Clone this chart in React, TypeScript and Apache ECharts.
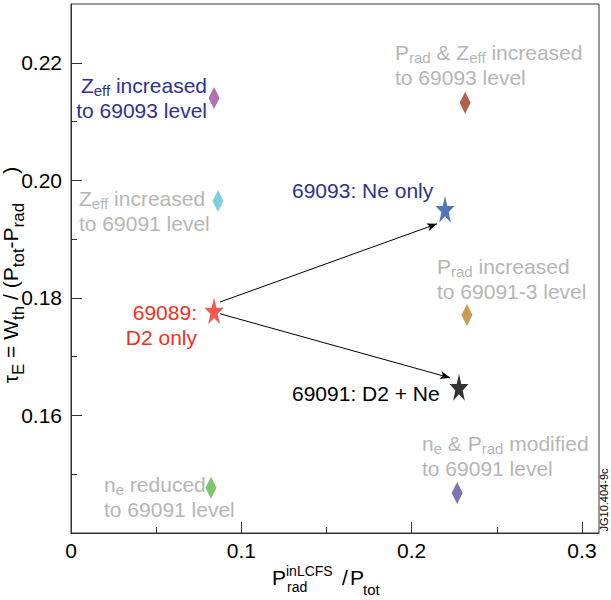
import React, { useEffect, useRef } from 'react';
import * as echarts from 'echarts';

// ---- axis ticks ----
const xMajorTicks = [0, 0.1, 0.2, 0.3];
const xMinorTicks = [0.05, 0.15, 0.25];
const yMajorTicks = [0.16, 0.18, 0.2, 0.22];
const yMinorTicks = [0.15, 0.17, 0.19, 0.21];

// ---- discharges (stars) ----
const starNames = ['69089: D2 only', '69093: Ne only', '69091: D2 + Ne'];
const starX = [0.084, 0.2196, 0.2278];
const starY = [0.1778, 0.1951, 0.1648];

// ---- modelled variations (diamonds) ----
const diamondNames = [
  'Zeff increased to 69093 level',
  'Zeff increased to 69091 level',
  'Prad & Zeff increased to 69093 level',
  'Prad increased to 69091-3 level',
  'ne reduced to 69091 level',
  'ne & Prad modified to 69091 level',
];
const diamondX = [0.084, 0.0863, 0.2314, 0.2325, 0.0822, 0.2267];
const diamondY = [0.214, 0.1965, 0.2132, 0.1771, 0.1477, 0.1468];

// ---- arrows (from 69089 to the two Ne cases) ----
const arrowFromX = [0.0875, 0.0875];
const arrowFromY = [0.1793, 0.1773];
const arrowToX = [0.2149, 0.2226];
const arrowToY = [0.1926, 0.1664];

// ---- styles ----
const starColors = ['#ee3124', '#2356a8', '#000000'];
const diamondColors = ['#9a4f9c', '#5cc4d8', '#9b3a22', '#b8842e', '#5cb646', '#5b51a3'];
const F = '"Liberation Sans", Arial, Helvetica, sans-serif';
const GRAY = '#b6b6b6';
const NAVY = '#2e3192';
const RED = '#ee3124';
const STAR =
  'path://M50,0 L61.8,35.1 L98.9,35.1 L69,56.9 L80.3,91.9 L50,70.2 L19.7,91.9 L31,56.9 L1.1,35.1 L38.2,35.1 Z';

function richFor(color: string) {
  return {
    n: { fontSize: 21, lineHeight: 25, fontFamily: F, fill: color },
    s: { fontSize: 15, lineHeight: 10, verticalAlign: 'bottom', fontFamily: F, fill: color },
  };
}

const annotations = [
  { text: '{n|Z}{s|eff}{n| increased}\n{n|to 69093 level}', color: NAVY, x: 207, y: 73, align: 'right' },
  { text: '{n|Z}{s|eff}{n| increased}\n{n|to 69091 level}', color: GRAY, x: 79, y: 186, align: 'left' },
  { text: '{n|P}{s|rad}{n| & Z}{s|eff}{n| increased}\n{n|to 69093 level}', color: GRAY, x: 395, y: 40, align: 'left' },
  { text: '{n|69093: Ne only}', color: NAVY, x: 292, y: 178, align: 'left' },
  { text: '{n|69089:}\n{n|D2 only}', color: RED, x: 197, y: 300, align: 'right' },
  { text: '{n|P}{s|rad}{n| increased}\n{n|to 69091-3 level}', color: GRAY, x: 437, y: 254, align: 'left' },
  { text: '{n|69091: D2 + Ne}', color: '#000000', x: 292, y: 381, align: 'left' },
  { text: '{n|n}{s|e}{n| & P}{s|rad}{n| modified}\n{n|to 69091 level}', color: GRAY, x: 422, y: 431, align: 'left' },
  { text: '{n|n}{s|e}{n| reduced}\n{n|to 69091 level}', color: GRAY, x: 104, y: 472, align: 'left' },
];

export default function App() {
  const ref = useRef<HTMLDivElement>(null);

  useEffect(() => {
    if (!ref.current) return;
    const chart = echarts.init(ref.current, null, { renderer: 'svg' });

    const axisLineStyle = { color: '#333333', width: 1 };
    const labelStyle = { fontSize: 21, color: '#000000', fontFamily: F };

    const graphics: any[] = annotations.map((a) => ({
      type: 'text',
      x: a.x,
      y: a.y,
      z: 10,
      style: {
        text: a.text,
        rich: richFor(a.color),
        fill: a.color,
        align: a.align,
        verticalAlign: 'top',
        fontFamily: F,
        fontSize: 21,
      },
    }));

    // y-axis title (rotated)
    const yRich = {
      n: { fontSize: 21, lineHeight: 34, fontFamily: F, fill: '#000' },
      s: { fontSize: 17, lineHeight: 10, verticalAlign: 'bottom', fontFamily: F, fill: '#000' },
    };
    graphics.push({
      type: 'text',
      x: 10,
      y: 275,
      rotation: Math.PI / 2,
      style: {
        text: '{n|τ}{s|E}{n| = W}{s|th}{n| / (P}{s|tot}{n|-P}{s|rad}{n|     )}',
        rich: yRich,
        align: 'center',
        verticalAlign: 'middle',
        fill: '#000',
        fontFamily: F,
        fontSize: 21,
      },
    });

    // x-axis title
    const t = (text: string, x: number, y: number, size: number) => ({
      type: 'text',
      x,
      y,
      style: { text, fill: '#000', fontSize: size, fontFamily: F, align: 'left', verticalAlign: 'middle' },
    });
    graphics.push(t('P', 272, 577, 21));
    graphics.push(t('inLCFS', 286, 571, 14));
    graphics.push(t('rad', 287, 587, 14));
    graphics.push(t('/', 342, 577, 21));
    graphics.push(t('P', 350, 577, 21));
    graphics.push(t('tot', 363, 589, 15));

    // figure id
    graphics.push({
      type: 'text',
      x: 604,
      y: 500,
      rotation: Math.PI / 2,
      style: {
        text: 'JG10.404-9c',
        fill: '#000',
        fontSize: 11,
        fontFamily: F,
        align: 'center',
        verticalAlign: 'middle',
      },
    });

    const option: any = {
      animation: false,
      backgroundColor: '#ffffff',
      grid: {
        left: 71,
        right: 12,
        top: 4,
        bottom: 67,
        show: true,
        borderColor: '#333333',
        borderWidth: 1,
        backgroundColor: 'transparent',
      },
      xAxis: [
        {
          type: 'value',
          min: 0,
          max: 0.31,
          position: 'bottom',
          axisLine: { show: true, lineStyle: axisLineStyle },
          axisTick: { show: true, inside: true, length: 11, customValues: xMajorTicks, lineStyle: axisLineStyle },
          axisLabel: { ...labelStyle, margin: 7, customValues: xMajorTicks },
          splitLine: { show: false },
        },
        {
          type: 'value',
          min: 0,
          max: 0.31,
          position: 'bottom',
          axisLine: { show: false },
          axisTick: { show: true, inside: true, length: 6, customValues: xMinorTicks, lineStyle: axisLineStyle },
          axisLabel: { show: false },
          splitLine: { show: false },
        },
      ],
      yAxis: [
        {
          type: 'value',
          min: 0.14,
          max: 0.23,
          position: 'left',
          axisLine: { show: true, lineStyle: axisLineStyle },
          axisTick: { show: true, inside: true, length: 11, customValues: yMajorTicks, lineStyle: axisLineStyle },
          axisLabel: {
            ...labelStyle,
            margin: 9,
            customValues: yMajorTicks,
            formatter: (v: number) => v.toFixed(2),
          },
          splitLine: { show: false },
        },
        {
          type: 'value',
          min: 0.14,
          max: 0.23,
          position: 'left',
          axisLine: { show: false },
          axisTick: { show: true, inside: true, length: 6, customValues: yMinorTicks, lineStyle: axisLineStyle },
          axisLabel: { show: false },
          splitLine: { show: false },
        },
      ],
      series: [
        {
          name: 'arrows',
          type: 'scatter',
          data: [],
          markLine: {
            silent: true,
            symbol: ['none', 'arrow'],
            symbolSize: [6, 10],
            label: { show: false },
            lineStyle: { color: '#000000', width: 1, type: 'solid' },
            emphasis: { disabled: true },
            data: arrowFromX.map((x, i) => [
              { coord: [x, arrowFromY[i]] },
              { coord: [arrowToX[i], arrowToY[i]] },
            ]),
          },
        },
        {
          name: 'variations',
          type: 'scatter',
          symbol: 'diamond',
          symbolSize: [11, 22],
          data: diamondX.map((x, i) => ({
            name: diamondNames[i],
            value: [x, diamondY[i]],
            itemStyle: { color: diamondColors[i] },
          })),
          z: 3,
        },
        {
          name: 'discharges',
          type: 'scatter',
          symbol: STAR,
          symbolSize: [19, 27],
          data: starX.map((x, i) => ({
            name: starNames[i],
            value: [x, starY[i]],
            itemStyle: { color: starColors[i] },
          })),
          z: 4,
        },
      ],
      graphic: graphics,
    };

    chart.setOption(option);
    return () => chart.dispose();
  }, []);

  return (
    <div
      ref={ref}
      style={{ position: 'absolute', left: 0, top: 0, width: 611, height: 600, background: '#fff' }}
    />
  );
}
